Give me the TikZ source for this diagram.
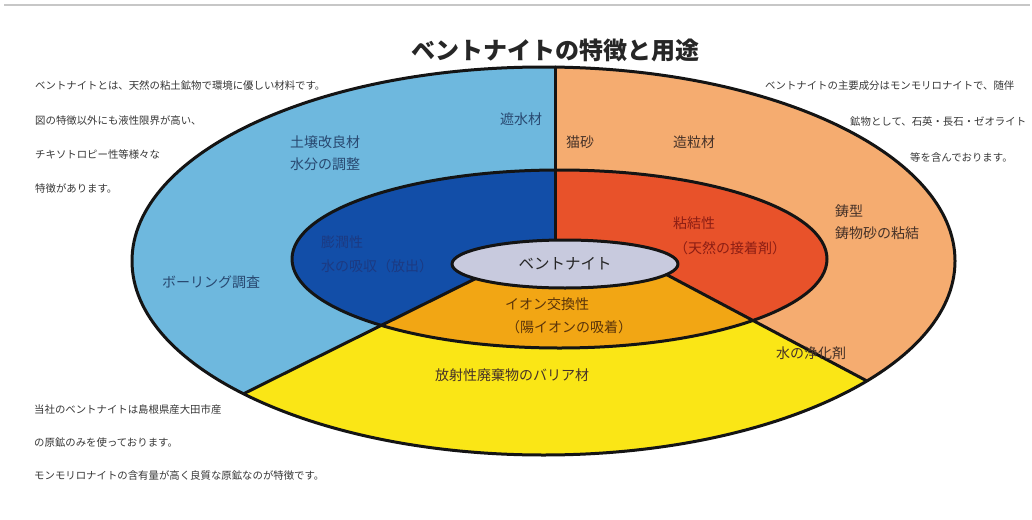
\documentclass[tikz,border=0pt]{standalone}
\usepackage{fontspec}
\newfontfamily\jp{Noto Sans CJK JP}
\usetikzlibrary{shapes.geometric}
\definecolor{lblue}{RGB}{110,184,222}
\definecolor{tanc}{RGB}{245,172,112}
\definecolor{yel}{RGB}{250,230,22}
\definecolor{dblue}{RGB}{18,78,168}
\definecolor{redc}{RGB}{232,82,42}
\definecolor{orng}{RGB}{242,166,20}
\definecolor{lav}{RGB}{200,202,222}
\definecolor{txtblue}{RGB}{40,72,112}
\definecolor{txtbrown}{RGB}{70,50,40}
\definecolor{txtred}{RGB}{140,30,20}
\definecolor{txtdblue}{RGB}{28,58,130}
\definecolor{txtorng}{RGB}{90,52,10}
\definecolor{txtgray}{RGB}{55,55,55}
\tikzset{
  bline/.style={line width=3pt, black!92, line cap=round},
  note/.style={font=\jp\fontsize{10.4}{12}\selectfont, text=txtgray, inner sep=0pt, anchor=west},
  lab/.style={font=\jp\fontsize{14}{16}\selectfont, inner sep=0pt},
}
\begin{document}
\begin{tikzpicture}[x=1pt,y=-1pt,line join=round]
\useasboundingbox (0,0) rectangle (1032,519);
\fill[white] (0,0) rectangle (1032,519);
\draw[black!22, line width=1.2pt] (4,5) -- (1030,5);
% geometry
\coordinate (O) at (543.5,261);
\coordinate (M) at (559.5,259);
\coordinate (A1) at (243.5,393.8);
\coordinate (A3) at (475.5,278.6);
\coordinate (AF) at (11.5,509);
\coordinate (B1) at (867,381);
\coordinate (B3) at (666.5,274.6);
\coordinate (BF) at (1067.5,487.4);
\coordinate (T1) at (555,67);
\coordinate (T2) at (555,240);
% left half
\begin{scope}
  \clip (0,0) rectangle (555,519);
  \fill[lblue] (O) ellipse [x radius=411.5, y radius=194];
  \fill[dblue] (M) ellipse [x radius=267.5, y radius=89];
\end{scope}
% right half
\begin{scope}
  \clip (555,0) rectangle (1032,519);
  \fill[tanc] (O) ellipse [x radius=411.5, y radius=194];
  \fill[redc] (M) ellipse [x radius=267.5, y radius=89];
\end{scope}
% bottom wedge
\begin{scope}
  \clip (565,264) -- (A3) -- (AF) -- (11.5,600) -- (1067.5,600) -- (BF) -- (B3) -- cycle;
  \fill[yel] (O) ellipse [x radius=411.5, y radius=194];
  \fill[orng] (M) ellipse [x radius=267.5, y radius=89];
\end{scope}
% dividers
\draw[bline] (T1) -- (T2);
\draw[bline] (A1) -- (A3);
\draw[bline] (B1) -- (B3);
% outlines
\draw[bline] (O) ellipse [x radius=411.5, y radius=194];
\draw[bline] (M) ellipse [x radius=267.5, y radius=89];
\node[ellipse, draw=black!92, line width=3pt, fill=lav, minimum width=226pt, minimum height=48pt, inner sep=0pt,
      font=\jp\fontsize{15.5}{17}\selectfont, text=black!85] (core) at (565,264) {ベントナイト};
% title
\node[font=\jp\bfseries\fontsize{24}{28}\selectfont, text=black!85, inner sep=0pt] (title) at (555,50) {ベントナイトの特徴と用途};
% notes
\node[note] (n1) at (35,86) {ベントナイトとは、天然の粘土鉱物で環境に優しい材料です。};
\node[note] (n2) at (35,121) {図の特徴以外にも液性限界が高い、};
\node[note] (n3) at (35,155) {チキソトロピー性等様々な};
\node[note] (n4) at (35,189) {特徴があります。};
\node[note] (n5) at (765,86) {ベントナイトの主要成分はモンモリロナイトで、随伴};
\node[note] (n6) at (850,122) {鉱物として、石英・長石・ゼオライト};
\node[note] (n7) at (910,158) {等を含んでおります。};
\node[note] (n8) at (34,410) {当社のベントナイトは島根県産大田市産};
\node[note] (n9) at (34,443) {の原鉱のみを使っております。};
\node[note] (n10) at (34,476) {モンモリロナイトの含有量が高く良質な原鉱なのが特徴です。};
% labels
\node[lab, text=txtblue, anchor=west] (l1) at (500,119) {遮水材};
\node[lab, text=txtblue, anchor=west] (l2) at (290,142) {土壌改良材};
\node[lab, text=txtblue, anchor=west] (l3) at (290,164) {水分の調整};
\node[lab, text=txtbrown, anchor=west] (l4) at (566,142) {猫砂};
\node[lab, text=txtbrown, anchor=west] (l5) at (673,142) {造粒材};
\node[lab, text=txtdblue, anchor=west] (l6) at (321,242) {膨潤性};
\node[lab, text=txtdblue, anchor=west] (l7) at (321,266) {水の吸収（放出）};
\node[lab, text=txtred, anchor=west] (l8) at (673,223) {粘結性};
\node[lab, text=txtred, anchor=west] (l9) at (674,248) {（天然の接着剤）};
\node[lab, text=txtorng, anchor=west] (l10) at (505,304) {イオン交換性};
\node[lab, text=txtorng, anchor=west] (l11) at (506,327) {（陽イオンの吸着）};
\node[lab, text=txtbrown, anchor=west] (l12) at (835,211) {鋳型};
\node[lab, text=txtbrown, anchor=west] (l13) at (835,233) {鋳物砂の粘結};
\node[lab, text=txtblue, anchor=west] (l14) at (162,282) {ボーリング調査};
\node[lab, text=txtbrown, anchor=west] (l15) at (776,353) {水の浄化剤};
\node[lab, text=txtbrown] (l16) at (512,375) {放射性廃棄物のバリア材};
\end{tikzpicture}
\end{document}
